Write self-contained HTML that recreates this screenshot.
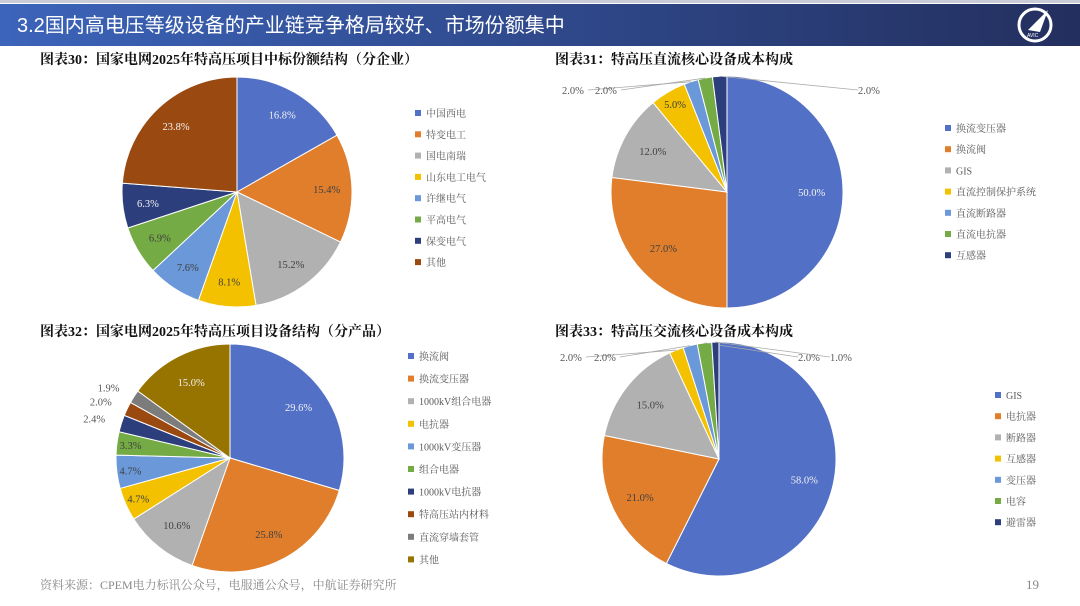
<!DOCTYPE html>
<html><head><meta charset="utf-8">
<style>
body{margin:0;width:1080px;height:606px;background:#fff;overflow:hidden;font-family:"Liberation Serif","Noto Serif CJK SC",serif;}
svg{display:block}
</style></head>
<body>
<svg width="1080" height="606" id="s">
<defs><linearGradient id="hg" x1="0" x2="1"><stop offset="0" stop-color="#3c64ba"/><stop offset="1" stop-color="#232f5e"/></linearGradient></defs>
<rect x="0" y="0" width="1080" height="3" fill="#c9ccd6"/>
<rect x="0" y="4" width="1080" height="42" fill="url(#hg)"/>
<text x="17" y="32" fill="#fff" font-size="20" font-family="Liberation Sans,Noto Sans CJK SC,sans-serif">3.2国内高电压等级设备的产业链竞争格局较好、市场份额集中</text>
<g><circle cx="1035" cy="25" r="16" fill="none" stroke="#fff" stroke-width="3"/><path d="M1028 30 L1048 10 L1040 32 Z" fill="#fff"/><text x="1027" y="37" fill="#fff" font-size="5" font-family="Liberation Sans,sans-serif">AVIC</text></g>
<g font-weight="bold" font-size="14" fill="#111" font-family="Liberation Serif,Noto Serif CJK SC,serif">
<text x="40" y="64">图表30：国家电网2025年特高压项目中标份额结构（分企业）</text>
<text x="555" y="64">图表31：特高压直流核心设备成本构成</text>
<text x="40" y="336">图表32：国家电网2025年特高压项目设备结构（分产品）</text>
<text x="555" y="336">图表33：特高压交流核心设备成本构成</text>
</g>
<text x="40" y="589" font-size="12" fill="#888">资料来源：CPEM电力标讯公众号，电服通公众号，中航证券研究所</text>
<text x="1026" y="589" font-size="13" fill="#888">19</text>
</svg>
<script>
const c1Cats=["中国西电","特变电工","国电南瑞","山东电工电气","许继电气","平高电气","保变电气","其他"];
const c1Vals=[16.8,15.4,15.2,8.1,7.6,6.9,6.3,23.8];
const c2Cats=["换流变压器","换流阀","GIS","直流控制保护系统","直流断路器","直流电抗器","互感器"];
const c2Vals=[50.0,27.0,12.0,5.0,2.0,2.0,2.0];
const c3Cats=["换流阀","换流变压器","1000kV组合电器","电抗器","1000kV变压器","组合电器","1000kV电抗器","特高压站内材料","直流穿墙套管","其他"];
const c3Vals=[29.6,25.8,10.6,4.7,4.7,3.3,2.4,2.0,1.9,15.0];
const c4Cats=["GIS","电抗器","断路器","互感器","变压器","电容","避雷器"];
const c4Vals=[58.0,21.0,15.0,2.0,2.0,2.0,1.0];

const COL=["#5170c6","#e07e2c","#b1b1b1","#f3c100","#6a98d9","#74ab44","#2c3f7c","#9a4a10","#7c7c7c","#977300"];
const LIGHT=[true,false,false,false,false,false,true,true,true,true];
const NS="http://www.w3.org/2000/svg";
const svg=document.getElementById('s');
function mk(t,a,p){const e=document.createElementNS(NS,t);for(const k in a)e.setAttribute(k,a[k]);(p||svg).appendChild(e);return e;}
function pt(cx,cy,r,f){const a=f*2*Math.PI;return [cx+r*Math.sin(a),cy-r*Math.cos(a)];}
const out={
 c2:[null,null,null,null,[562,94,"start"],[595,94,"start"],[858,94,"start"]],
 c4:[null,null,null,[560,361,"start"],[594,361,"start"],[798,361,"start"],[830,361,"start"]]
};
function pie(key,cats,vals,cx,cy,r,lx,ly,step,lf){
  const g=mk('g',{});
  
  
  const tot=vals.reduce((a,b)=>a+b,0);let acc=0;
  vals.forEach((v,i)=>{
    const f0=acc/tot,f1=(acc+v)/tot;acc+=v;
    const [x0,y0]=pt(cx,cy,r,f0),[x1,y1]=pt(cx,cy,r,f1);
    const p=mk('path',{d:`M${cx},${cy}L${x0},${y0}A${r},${r} 0 ${f1-f0>0.5?1:0} 1 ${x1},${y1}Z`,fill:COL[i],stroke:'#fff','stroke-width':1},g);
    
    
    const fm=(f0+f1)/2;let tx,ty,anc="middle",inside=false;
    const o=out[key]&&out[key][i];
    if(o){tx=o[0];ty=o[1];anc=o[2];
      const [ex,ey]=pt(cx,cy,r,fm);
      mk('polyline',{points:`${tx+(tx<cx?26:0)},${ty-4} ${ex},${ey}`,fill:'none',stroke:'#aaa','stroke-width':0.8},g);
    } else if(v<3){[tx,ty]=pt(cx,cy,r*1.15,fm);anc=tx<cx?"end":"start";ty+=4;}
    else {[tx,ty]=pt(cx,cy,r*(v<6?0.88:lf),fm);ty+=4;inside=true;}
    const fill=inside?(LIGHT[i]?'#f2f2f2':'#404040'):'#555';
    const t=mk('text',{x:tx,y:ty,'text-anchor':anc,'font-size':10.5,fill:fill},g);
    t.textContent=v.toFixed(1)+'%';
    
    
  });
  cats.forEach((c,i)=>{
    const y=ly+i*step;
    const lg=mk('g',{});
    
    
    mk('rect',{x:lx,y:y-6,width:6,height:6,fill:COL[i]},lg);
    const t=mk('text',{x:lx+11,y:y+1,'font-size':10,fill:'#595959'},lg);t.textContent=c;
  });
}
pie('c1',c1Cats,c1Vals,237,192,115,415,116,21.3,0.78);
pie('c2',c2Cats,c2Vals,727,192,116,945,131,21.2,0.73);
pie('c3',c3Cats,c3Vals,230,458,114,408,359,22.6,0.75);
pie('c4',c4Cats,c4Vals,719,459,117,995,398,21.2,0.75);
</script>
</body></html>
